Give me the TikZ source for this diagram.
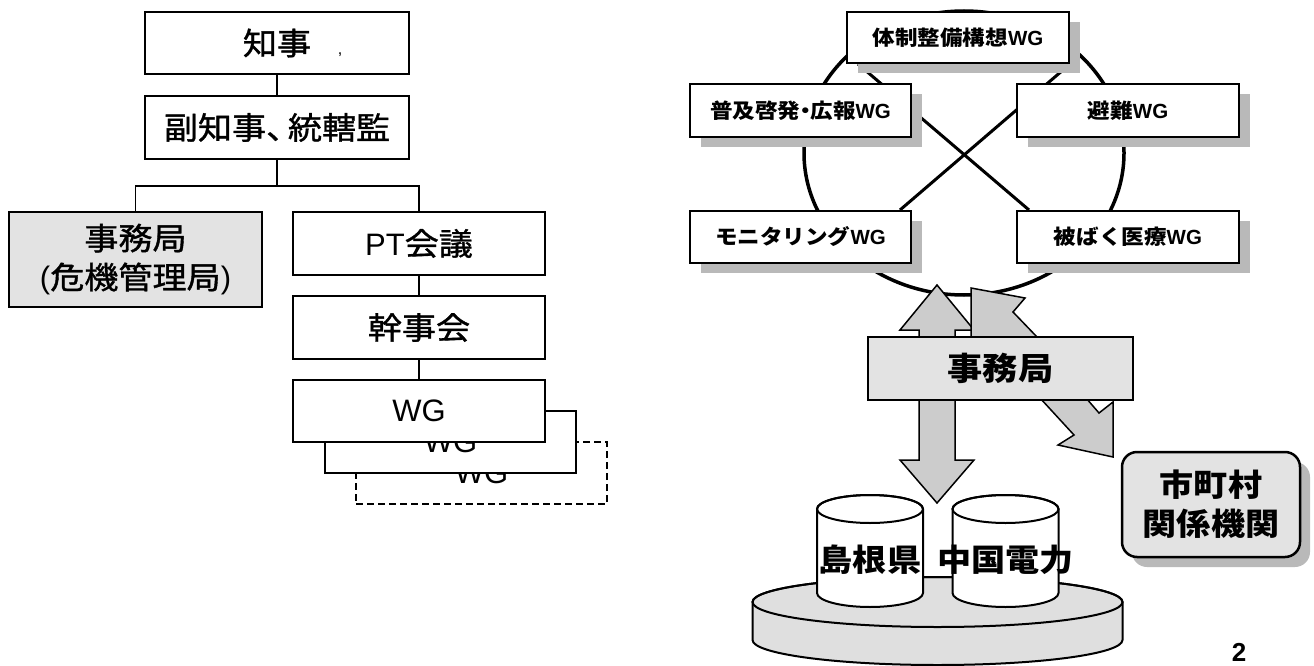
\documentclass[tikz,border=0pt]{standalone}
\usepackage{fontspec}
\setmainfont{Liberation Sans}
\newfontfamily\jp{Noto Sans CJK JP}[FakeStretch=1.1]
\newfontfamily\jpm{Noto Sans CJK JP}[FakeStretch=1.1, FakeBold=1.2]
\usetikzlibrary{shadows,calc}
\pgfdeclarelayer{bg}
\pgfsetlayers{bg,main}
\newcommand\lfont{\fontsize{31}{39}\selectfont}
\newcommand\rfont{\fontsize{20.5}{24}\selectfont\bfseries}
\tikzset{
  lbox/.style={draw, line width=1.8pt, fill=white, inner sep=0pt, minimum height=62pt, font=\lfont},
  conn/.style={line width=1.8pt},
  sh/.style={drop shadow={opacity=1, fill=gray!55, shadow xshift=11pt, shadow yshift=-10pt}},
  rbox/.style={draw, line width=2pt, fill=white, inner sep=0pt, minimum width=221pt, minimum height=52pt, font=\rfont, sh},
  ring/.style={line width=3.5pt},
  xline/.style={line width=3pt},
  arr/.style={draw, line width=1.5pt, fill=gray!40, line join=miter},
  stip/.style={fill=gray!22},
  big/.style={font=\fontsize{31}{39}\selectfont\bfseries},
}
\begin{document}
\begin{tikzpicture}[x=1pt,y=-1pt]
\useasboundingbox (0,0) rectangle (1314,666);
% ---------------- left organisation chart
\node[lbox, minimum width=264pt] (chiji) at (277,43) {\jpm 知事};
\node[font=\fontsize{16}{16}\selectfont, inner sep=0pt] (comma) at (340,55) {,};
\node[lbox, minimum width=264pt, minimum height=63pt] (fuku) at (277,127.5) {\jpm 副知事、\kern-0.4em統轄監};
\node[lbox, stip, minimum width=253pt, minimum height=95pt, align=center] (jimuL) at (135.5,259.5) {{\jpm 事務局}\\({\jpm 危機管理局})};
\node[lbox, minimum width=252pt, minimum height=63pt] (pt) at (419,243.5) {PT{\jpm 会議}};
\node[lbox, minimum width=252pt, minimum height=63pt] (kanji) at (419,327.5) {\jpm 幹事会};
\node[lbox, line width=1.4pt, dash pattern=on 7pt off 4pt, minimum width=251pt] (wg3) at (481.5,473) {WG};
\node[lbox, minimum width=251pt] (wg2) at (450.5,442) {WG};
\node[lbox, minimum width=252pt] (wg1) at (419,411) {WG};
\draw[conn] (chiji) -- (fuku);
\draw[conn] (fuku.south) -- ++(0,26) coordinate (split);
\draw[conn] (jimuL.north) |- (split) -| (pt.north);
\draw[conn] (pt) -- (kanji);
\draw[conn] (kanji) -- (wg1);
% ---------------- right: working groups ring
\node[rbox, minimum width=222pt, minimum height=51pt] (taisei) at (958,37.5) {{\jp 体制整備構想}WG};
\node[rbox, minimum height=53pt] (fukyu) at (800.5,110.5) {{\jp 普及啓発\kern-0.3em・\kern-0.3em広報}WG};
\node[rbox, minimum width=222pt, minimum height=53pt] (hinan) at (1128,110.5) {{\jp 避難}WG};
\node[rbox] (moni) at (800.5,237) {{\jp モニタリング}WG};
\node[rbox, minimum width=222pt] (hibaku) at (1128,237) {{\jp 被ばく医療}WG};
\begin{pgfonlayer}{bg}
\draw[ring] (964,153) ellipse [x radius=160pt, y radius=142pt];
\draw[xline] ($(taisei.south west)+(12,0)$) -- ($(hibaku.north west)+(13,0)$);
\draw[xline] (taisei.south east) -- ($(moni.north east)+(-12,0)$);
\end{pgfonlayer}
% arrows
\filldraw[arr] (937,285) -- (974,330) -- (955,330) -- (955,460) -- (974,460) -- (937,503)
  -- (900,460) -- (919,460) -- (919,330) -- (900,330) -- cycle;
\filldraw[arr] (971,288) -- (1025,298) -- (1013,312) -- (1037,337) -- (1086,398) -- (1099,413)
  -- (1113,402) -- (1113,457) -- (1058,445) -- (1074,435) -- (1040,398) -- (971,337) -- cycle;
\node[draw, line width=2pt, stip, inner sep=0pt, minimum width=265pt, minimum height=63pt,
  font=\fontsize{32}{38}\selectfont\bfseries] (jimuR) at (1000.5,368.5) {\jp 事務局};
\node[draw, line width=2.5pt, stip, rounded corners=15pt, inner sep=0pt, minimum width=178pt,
  minimum height=105pt, align=center, big,
  drop shadow={opacity=1, fill=gray!55, shadow xshift=10pt, shadow yshift=-10pt}] (shicho) at (1211,504.5)
  {{\jp 市町村}\\{\jp 関係機関}};
% base disc
\filldraw[line width=2pt, fill=gray!25] (752.5,602) -- (752.5,640)
  arc [start angle=180, end angle=0, x radius=185, y radius=25] -- (1122.5,602)
  arc [start angle=0, end angle=-180, x radius=185, y radius=25] -- cycle;
\draw[line width=2pt] (937.5,602) ellipse [x radius=185pt, y radius=25pt];
% cylinders
\foreach \cx/\nm in {870/cylA, 1005.5/cylB}{
  \filldraw[line width=2pt, fill=white] (\cx-53,509) -- (\cx-53,593)
    arc [start angle=180, end angle=0, x radius=53, y radius=14] -- (\cx+53,509)
    arc [start angle=0, end angle=-180, x radius=53, y radius=14] -- cycle;
  \draw[line width=2pt] (\cx,509) ellipse [x radius=53pt, y radius=14pt];
}
\node[big, inner sep=0pt] (shimane) at (870,560) {\jp 島根県};
\node[big, inner sep=0pt] (chugoku) at (1005.5,560) {\jp 中国電力};
\node[font=\fontsize{26}{26}\selectfont\bfseries, inner sep=0pt] (pnum) at (1239,652) {2};
\end{tikzpicture}
\end{document}
